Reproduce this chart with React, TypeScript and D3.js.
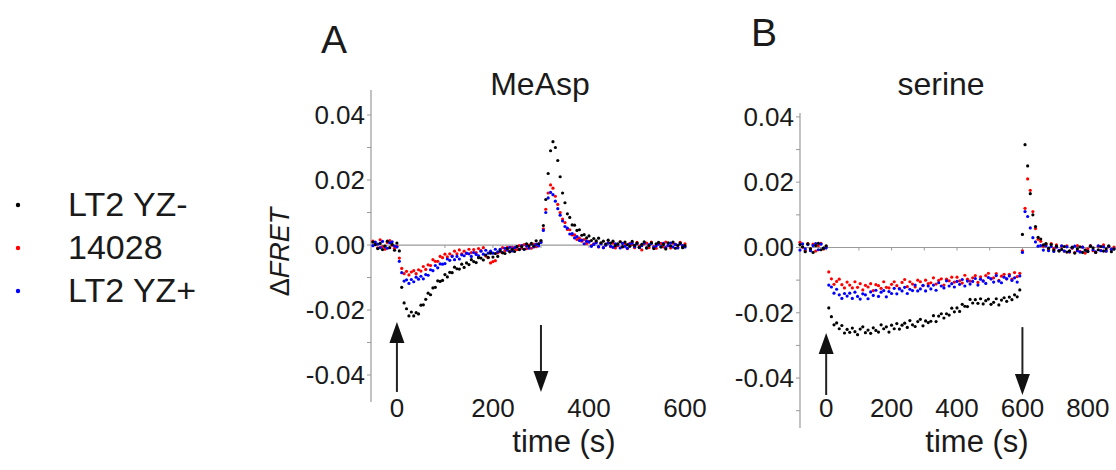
import React from "react";
import * as d3 from "d3";

// ---------- DATA ----------
const SERIES = ["LT2 YZ-", "14028", "LT2 YZ+"];
const COLORS = ["#000000", "#ff0000", "#0000ff"];

const Y_TICKS = [-0.04, -0.02, 0, 0.02, 0.04];
const A_XTICKS = [0, 200, 400, 600];
const B_XTICKS = [0, 200, 400, 600, 800];

// Panel A (MeAsp): samples every 5 s starting at t = -50 s
const A_T0 = -50;
const A_DT = 5;
const A_BLACK = [
  0.0009, 0.0001, -0.0011, 0.0005, -0.0014, -0.0003, 0.0012, -0.0008, 0.0002, -0.0016,
  0.0006, -0.0018, -0.0130, -0.0178, -0.0196, -0.0218, -0.0206, -0.0218, -0.0208, -0.0212,
  -0.0185, -0.0184, -0.0167, -0.0148, -0.0153, -0.0132, -0.0130, -0.0110, -0.0112, -0.0109,
  -0.0091, -0.0098, -0.0084, -0.0085, -0.0068, -0.0073, -0.0074, -0.0059, -0.0069, -0.0055,
  -0.0060, -0.0045, -0.0051, -0.0054, -0.0039, -0.0040, -0.0046, -0.0031, -0.0038, -0.0025,
  -0.0037, -0.0026, -0.0035, -0.0018, -0.0024, -0.0026, -0.0011, -0.0021, -0.0013, -0.0020,
  -0.0005, -0.0014, -0.0005, -0.0013, 0.0004, -0.0003, 0.0005, -0.0003, 0.0013, 0.0004,
  0.0014, 0.0060, 0.0140, 0.0220, 0.0290, 0.0318, 0.0300, 0.0260, 0.0210, 0.0160,
  0.0130, 0.0096, 0.0085, 0.0062, 0.0061, 0.0045, 0.0047, 0.0030, 0.0032, 0.0022,
  0.0028, 0.0014, 0.0020, 0.0013, 0.0021, 0.0007, 0.0012, 0.0003, 0.0015, 0.0006,
  0.0012, -0.0002, 0.0004, 0.0010, -0.0005, 0.0009, 0.0001, -0.0004, 0.0011, -0.0001,
  0.0006, -0.0007, 0.0002, 0.0010, -0.0009, -0.0002, 0.0007, -0.0011, 0.0004, 0.0008,
  -0.0006, 0.0002, -0.0012, 0.0007, -0.0003, 0.0009, -0.0010, -0.0001, 0.0006, -0.0008,
  -0.0002,
];
const A_RED = [
  0.0012, 0.0004, -0.0009, 0.0016, -0.0005, -0.0013, 0.0008, 0.0014, -0.0001, -0.0010,
  -0.0004, -0.0040, -0.0072, -0.0088, -0.0081, -0.0092, -0.0083, -0.0079, -0.0088, -0.0076,
  -0.0080, -0.0066, -0.0075, -0.0061, -0.0063, -0.0045, -0.0050, -0.0050, -0.0035, -0.0039,
  -0.0028, -0.0036, -0.0027, -0.0033, -0.0019, -0.0027, -0.0015, -0.0027, -0.0019, -0.0026,
  -0.0013, -0.0023, -0.0014, -0.0023, -0.0011, -0.0017, -0.0008, -0.0034, -0.0039, -0.0055,
  -0.0051, -0.0048, -0.0024, -0.0021, -0.0008, -0.0017, -0.0007, -0.0019, -0.0007, -0.0012,
  -0.0014, -0.0002, -0.0010, 0.0001, -0.0011, 0.0000, -0.0010, 0.0003, -0.0005, 0.0003,
  0.0010, 0.0050, 0.0110, 0.0160, 0.0185, 0.0175, 0.0150, 0.0125, 0.0100, 0.0080,
  0.0069, 0.0048, 0.0047, 0.0031, 0.0031, 0.0017, 0.0021, 0.0012, 0.0017, 0.0005,
  0.0011, -0.0002, 0.0004, 0.0009, -0.0006, 0.0005, -0.0008, 0.0002, 0.0007, -0.0005,
  0.0006, -0.0009, -0.0002, 0.0010, -0.0006, 0.0003, -0.0011, 0.0005, 0.0001, -0.0008,
  0.0008, -0.0003, -0.0015, 0.0004, 0.0006, -0.0008, 0.0009, -0.0005, -0.0010, 0.0003,
  0.0005, -0.0006, 0.0009, -0.0002, -0.0009, 0.0006, 0.0002, -0.0007, 0.0008, -0.0003,
  0.0004,
];
const A_BLUE = [
  -0.0002, 0.0009, 0.0003, -0.0008, 0.0011, -0.0004, -0.0010, 0.0007, 0.0010, -0.0003,
  -0.0006, -0.0050, -0.0085, -0.0111, -0.0107, -0.0118, -0.0106, -0.0113, -0.0099, -0.0105,
  -0.0096, -0.0104, -0.0091, -0.0093, -0.0076, -0.0079, -0.0063, -0.0070, -0.0058, -0.0059,
  -0.0057, -0.0043, -0.0047, -0.0035, -0.0045, -0.0035, -0.0043, -0.0030, -0.0033, -0.0025,
  -0.0027, -0.0035, -0.0023, -0.0029, -0.0033, -0.0019, -0.0028, -0.0016, -0.0025, -0.0019,
  -0.0025, -0.0013, -0.0021, -0.0013, -0.0023, -0.0010, -0.0016, -0.0007, -0.0018, -0.0008,
  -0.0005, -0.0013, -0.0002, -0.0013, -0.0003, -0.0010, 0.0003, -0.0006, 0.0002, -0.0003,
  0.0008, 0.0045, 0.0100, 0.0145, 0.0162, 0.0155, 0.0135, 0.0112, 0.0092, 0.0074,
  0.0057, 0.0052, 0.0034, 0.0035, 0.0022, 0.0026, 0.0014, 0.0015, 0.0004, 0.0012,
  0.0009, -0.0004, 0.0002, 0.0007, -0.0005, 0.0004, -0.0008, -0.0001, 0.0006, -0.0003,
  -0.0007, 0.0004, 0.0001, -0.0009, 0.0005, -0.0004, -0.0010, 0.0003, 0.0006, -0.0005,
  0.0004, -0.0008, -0.0002, 0.0006, -0.0009, 0.0001, 0.0005, -0.0007, -0.0003, 0.0003,
  -0.0005, 0.0005, -0.0008, -0.0001, 0.0006, -0.0006, 0.0002, -0.0009, 0.0004, -0.0002,
  -0.0006,
];

// Panel B (serine): samples every 8 s starting at t = -80 s
const B_T0 = -80;
const B_DT = 8;
const B_BLACK = [
  0.0009, 0.0002, -0.0013, 0.0011, -0.0004, -0.0015, 0.0006, 0.0013, -0.0007, -0.0002,
  0.0005, -0.0185, -0.0212, -0.0237, -0.0231, -0.0249, -0.0239, -0.0262, -0.0251, -0.0260,
  -0.0247, -0.0258, -0.0267, -0.0250, -0.0243, -0.0261, -0.0253, -0.0263, -0.0246, -0.0254,
  -0.0259, -0.0237, -0.0249, -0.0243, -0.0259, -0.0238, -0.0249, -0.0233, -0.0250, -0.0238,
  -0.0232, -0.0245, -0.0224, -0.0237, -0.0242, -0.0227, -0.0220, -0.0240, -0.0225, -0.0230,
  -0.0226, -0.0209, -0.0227, -0.0210, -0.0203, -0.0216, -0.0203, -0.0207, -0.0186, -0.0197,
  -0.0185, -0.0196, -0.0174, -0.0180, -0.0181, -0.0159, -0.0170, -0.0160, -0.0171, -0.0157,
  -0.0173, -0.0163, -0.0158, -0.0174, -0.0168, -0.0157, -0.0176, -0.0161, -0.0154, -0.0165,
  -0.0152, -0.0160, -0.0145, -0.0151, -0.0130, 0.0040, 0.0315, 0.0250, 0.0165, 0.0100,
  0.0064, 0.0031, 0.0026, 0.0008, 0.0012, -0.0002, 0.0009, -0.0008, 0.0004, -0.0011,
  -0.0006, 0.0003, -0.0014, -0.0010, 0.0001, -0.0017, -0.0004, 0.0002, -0.0015, -0.0008,
  -0.0012, 0.0004, -0.0001, -0.0015, -0.0007, 0.0003, -0.0011, -0.0004, 0.0005, -0.0013,
  -0.0005,
];
const B_RED = [
  0.0016, 0.0001, -0.0009, 0.0012, -0.0004, 0.0010, -0.0011, 0.0006, 0.0013, -0.0005,
  0.0003, -0.0075, -0.0096, -0.0113, -0.0104, -0.0097, -0.0114, -0.0124, -0.0106, -0.0115,
  -0.0124, -0.0105, -0.0122, -0.0111, -0.0130, -0.0116, -0.0121, -0.0111, -0.0132, -0.0114,
  -0.0117, -0.0125, -0.0105, -0.0122, -0.0124, -0.0113, -0.0105, -0.0117, -0.0125, -0.0107,
  -0.0098, -0.0120, -0.0105, -0.0112, -0.0121, -0.0100, -0.0105, -0.0117, -0.0100, -0.0111,
  -0.0108, -0.0093, -0.0112, -0.0101, -0.0096, -0.0115, -0.0097, -0.0102, -0.0091, -0.0106,
  -0.0091, -0.0102, -0.0109, -0.0085, -0.0097, -0.0103, -0.0093, -0.0086, -0.0107, -0.0090,
  -0.0102, -0.0086, -0.0079, -0.0096, -0.0093, -0.0080, -0.0101, -0.0088, -0.0082, -0.0096,
  -0.0082, -0.0097, -0.0077, -0.0089, -0.0079, -0.0010, 0.0120, 0.0210, 0.0175, 0.0110,
  0.0058, 0.0025, 0.0019, 0.0004, 0.0010, -0.0006, 0.0012, -0.0003, 0.0008, -0.0009,
  0.0004, -0.0011, 0.0005, -0.0014, -0.0002, -0.0016, 0.0006, -0.0012, 0.0001, -0.0017,
  -0.0004, 0.0006, -0.0010, -0.0015, 0.0004, -0.0009, 0.0008, -0.0011, 0.0002, -0.0006,
  0.0001,
];
const B_BLUE = [
  -0.0008, 0.0011, -0.0004, 0.0009, -0.0010, 0.0006, 0.0012, -0.0007, 0.0010, -0.0002,
  -0.0001, -0.0115, -0.0121, -0.0140, -0.0128, -0.0145, -0.0156, -0.0141, -0.0149, -0.0140,
  -0.0156, -0.0137, -0.0150, -0.0158, -0.0142, -0.0145, -0.0157, -0.0136, -0.0147, -0.0131,
  -0.0150, -0.0137, -0.0132, -0.0151, -0.0135, -0.0141, -0.0125, -0.0142, -0.0127, -0.0133,
  -0.0122, -0.0141, -0.0128, -0.0132, -0.0115, -0.0133, -0.0127, -0.0116, -0.0133, -0.0118,
  -0.0127, -0.0115, -0.0131, -0.0108, -0.0118, -0.0124, -0.0102, -0.0118, -0.0111, -0.0121,
  -0.0104, -0.0113, -0.0098, -0.0118, -0.0103, -0.0112, -0.0104, -0.0095, -0.0115, -0.0097,
  -0.0103, -0.0110, -0.0092, -0.0096, -0.0106, -0.0086, -0.0103, -0.0108, -0.0091, -0.0096,
  -0.0087, -0.0101, -0.0093, -0.0106, -0.0087, -0.0015, 0.0110, 0.0095, 0.0060, 0.0030,
  0.0017, 0.0004, 0.0006, -0.0008, 0.0005, -0.0010, 0.0003, -0.0012, 0.0001, -0.0009,
  0.0005, -0.0011, 0.0002, -0.0013, -0.0001, 0.0004, -0.0010, -0.0014, 0.0001, -0.0008,
  -0.0012, 0.0004, -0.0007, -0.0013, 0.0005, -0.0010, 0.0002, -0.0011, 0.0003, -0.0006,
  -0.0004,
];

// Stimulus arrows (time, tail value, tip value)
const A_ARROWS = [
  { t: 0, from: -0.0452, to: -0.0237 },
  { t: 300, from: -0.0246, to: -0.0452 },
];
const B_ARROWS = [
  { t: 0, from: -0.0452, to: -0.0262 },
  { t: 600, from: -0.0244, to: -0.0452 },
];

// ---------- LAYOUT ----------
const FONT = "'Liberation Sans', Arial, Helvetica, sans-serif";
const TEXT = "#1a1a1a";
const AXIS = "#9a9a9a";

type Panel = {
  letter: string;
  letterX: number;
  letterY: number;
  title: string;
  titleX: number;
  xDomain: [number, number];
  xRange: [number, number];
  yDomain: [number, number];
  yRange: [number, number];
  xTicks: number[];
  xLabelX: number;
  t0: number;
  dt: number;
  series: number[][];
  arrows: { t: number; from: number; to: number }[];
};

const PANELS: Panel[] = [
  {
    letter: "A",
    letterX: 321,
    letterY: 53,
    title: "MeAsp",
    titleX: 540,
    xDomain: [-54, 600],
    xRange: [371, 685],
    yDomain: [-0.0483, 0.0477],
    yRange: [402, 90],
    xTicks: A_XTICKS,
    xLabelX: 564,
    t0: A_T0,
    dt: A_DT,
    series: [A_BLACK, A_RED, A_BLUE],
    arrows: A_ARROWS,
  },
  {
    letter: "B",
    letterX: 751,
    letterY: 46,
    title: "serine",
    titleX: 941,
    xDomain: [-80, 880],
    xRange: [800, 1114],
    yDomain: [-0.0553, 0.0412],
    yRange: [428, 113],
    xTicks: B_XTICKS,
    xLabelX: 977,
    t0: B_T0,
    dt: B_DT,
    series: [B_BLACK, B_RED, B_BLUE],
    arrows: B_ARROWS,
  },
];

const DRAW_ORDER = [1, 2, 0];

function PanelView({ p }: { p: Panel }) {
  const x = d3.scaleLinear().domain(p.xDomain).range(p.xRange);
  const y = d3.scaleLinear().domain(p.yDomain).range(p.yRange);
  const minor = d3
    .range(-5, 5)
    .map((k) => k / 100)
    .filter((v) => v >= p.yDomain[0] && v <= p.yDomain[1]);
  const zeroTicks = d3.range(0, p.xDomain[1] + 1, 100);
  const y0 = y(0);
  return (
    <g>
      <text x={p.letterX} y={p.letterY} fontSize={39} fill={TEXT}>{p.letter}</text>
      <text x={p.titleX} y={95} fontSize={32} fill={TEXT} textAnchor="middle">{p.title}</text>
      {/* y axis */}
      <line x1={p.xRange[0]} x2={p.xRange[0]} y1={p.yRange[0]} y2={p.yRange[1]} stroke={AXIS} strokeWidth={1.2} />
      {minor.map((v) => (
        <line key={"m" + v} x1={p.xRange[0] - 4} x2={p.xRange[0]} y1={y(v)} y2={y(v)} stroke={AXIS} strokeWidth={1} />
      ))}
      {Y_TICKS.map((v) => (
        <text key={"yt" + v} x={p.xRange[0] - 6} y={y(v) + 9} fontSize={26} fill={TEXT} textAnchor="end">
          {v.toFixed(2)}
        </text>
      ))}
      {/* zero line */}
      <line x1={p.xRange[0]} x2={p.xRange[1]} y1={y0} y2={y0} stroke={AXIS} strokeWidth={1.2} />
      {zeroTicks.map((t) => (
        <line key={"zt" + t} x1={x(t)} x2={x(t)} y1={y0} y2={y0 + 3} stroke={AXIS} strokeWidth={1} />
      ))}
      {/* data */}
      {DRAW_ORDER.map((si) => (
        <g key={"s" + si} fill={COLORS[si]}>
          {p.series[si].map((v, i) => (
            <circle key={i} cx={x(p.t0 + i * p.dt)} cy={y(v)} r={1.6} />
          ))}
        </g>
      ))}
      {/* arrows */}
      {p.arrows.map((a, k) => {
        const ax = x(a.t);
        const y1 = y(a.from);
        const y2 = y(a.to);
        const dir = y2 > y1 ? 1 : -1;
        const base = y2 - dir * 21;
        return (
          <g key={"a" + k}>
            <line x1={ax} x2={ax} y1={y1} y2={base} stroke="#222" strokeWidth={2} />
            <polygon points={`${ax},${y2} ${ax - 7.5},${base} ${ax + 7.5},${base}`} fill="#111" />
          </g>
        );
      })}
      {/* x tick labels */}
      {p.xTicks.map((t) => (
        <text key={"xt" + t} x={x(t)} y={417} fontSize={26} fill={TEXT} textAnchor="middle">{t}</text>
      ))}
      <text x={p.xLabelX} y={452} fontSize={31} fill={TEXT} textAnchor="middle">time (s)</text>
    </g>
  );
}

export default function App() {
  const legendRows = [216, 259, 302];
  return (
    <svg
      width={1116}
      height={470}
      viewBox="0 0 1116 470"
      style={{ position: "absolute", left: 0, top: 0, background: "#fff" }}
      fontFamily={FONT}
    >
      <rect width={1116} height={470} fill="#fff" />
      {SERIES.map((s, i) => (
        <g key={s}>
          <circle cx={18} cy={legendRows[i] - 11} r={2.2} fill={COLORS[i]} />
          <text x={68} y={legendRows[i]} fontSize={34} fill={TEXT}>{s}</text>
        </g>
      ))}
      <text transform="translate(289,252) rotate(-90)" fontSize={27} fill={TEXT} textAnchor="middle">
        Δ<tspan fontStyle="italic">FRET</tspan>
      </text>
      {PANELS.map((p) => (
        <PanelView key={p.letter} p={p} />
      ))}
    </svg>
  );
}
